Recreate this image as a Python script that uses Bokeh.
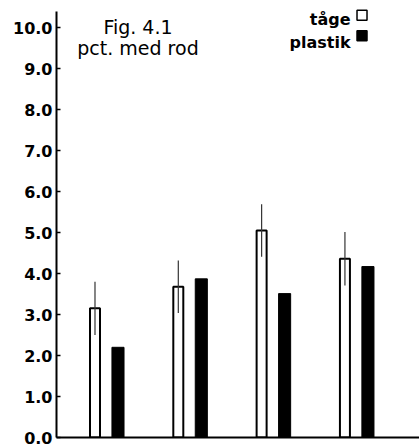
from bokeh.plotting import figure
from bokeh.models import FixedTicker, Range1d, ColumnDataSource, Label, CustomJSTickFormatter
from bokeh.embed import file_html
from bokeh.resources import INLINE

# ---- data ----
groups = [1, 2, 3, 4]
tage = [3.15, 3.68, 5.05, 4.36]
tage_err = [0.65, 0.64, 0.64, 0.65]
plastik = [2.2, 3.87, 3.51, 4.17]
y_ticks = [0, 1, 2, 3, 4, 5, 6, 7, 8, 9, 10]
series_names = ["tåge", "plastik"]
title_lines = ["Fig. 4.1", "pct. med rod"]

off = 0.138
src = ColumnDataSource(dict(
    xw=[g - off for g in groups],
    xb=[g + off for g in groups],
    tage=tage,
    plastik=plastik,
    lo=[t - e for t, e in zip(tage, tage_err)],
    hi=[t + e for t, e in zip(tage, tage_err)],
))

p = figure(width=419, height=446, output_backend="svg", toolbar_location=None,
           x_range=Range1d(0.4, 4.757), y_range=Range1d(0, 10.66),
           min_border_left=56, min_border_right=0, min_border_top=0, min_border_bottom=9)
p.outline_line_color = None
p.grid.visible = False
p.background_fill_color = "white"
p.border_fill_color = "white"

# bars
p.vbar(x="xw", top="tage", bottom=0, width=0.12, source=src,
       fill_color="white", line_color="black", line_width=2)
p.vbar(x="xb", top="plastik", bottom=0, width=0.145, source=src,
       fill_color="black", line_color="black", line_width=1)
p.segment(x0="xw", y0="lo", x1="xw", y1="hi", source=src,
          line_color="#333333", line_width=1.2)

# axes
p.yaxis.ticker = FixedTicker(ticks=y_ticks)
p.yaxis.formatter = CustomJSTickFormatter(code="return tick.toFixed(1);")
p.yaxis.bounds = (0, 10.39)
p.yaxis.major_tick_in = 4
p.yaxis.major_tick_out = 0
p.yaxis.minor_tick_line_color = None
p.yaxis.axis_line_width = 2
p.yaxis.major_tick_line_width = 1.5
p.yaxis.major_label_text_font = "DejaVu Sans"
p.yaxis.major_label_text_font_style = "bold"
p.yaxis.major_label_text_font_size = "16px"
p.yaxis.major_label_text_color = "black"
p.yaxis.major_label_standoff = 4

p.xaxis.ticker = FixedTicker(ticks=[])
p.xaxis.axis_line_width = 2
p.xaxis.major_tick_line_color = None
p.xaxis.minor_tick_line_color = None
p.xaxis.major_label_text_font_size = "0px"

# title text
for txt, yy in zip(title_lines, [10.007, 9.51]):
    p.add_layout(Label(x=1.378, y=yy, text=txt, text_align="center",
                       text_baseline="alphabetic", text_font="DejaVu Sans",
                       text_font_size="19px", text_color="black"))

# legend (label left of square)
for txt, yy in zip(series_names, [10.195, 9.64]):
    p.add_layout(Label(x=3.93, y=yy, text=txt, text_align="right",
                       text_baseline="alphabetic", text_font="DejaVu Sans",
                       text_font_style="bold", text_font_size="16px", text_color="black"))
p.scatter(x=[4.067], y=[10.3], marker="square", size=10,
          fill_color="white", line_color="black", line_width=1.5)
p.scatter(x=[4.067], y=[9.8], marker="square", size=10,
          fill_color="black", line_color="black", line_width=1.5)

open("out.html", "w").write(file_html(p, INLINE))
